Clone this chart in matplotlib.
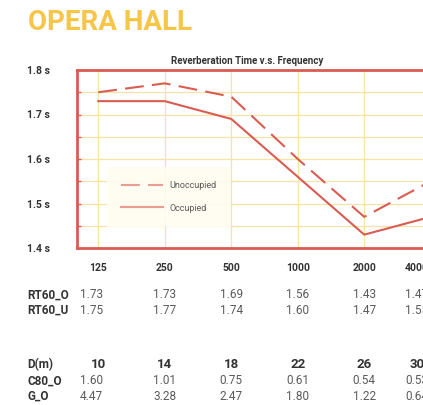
import matplotlib.pyplot as plt
from matplotlib.transforms import blended_transform_factory
from matplotlib.ticker import MultipleLocator

# data
freqs = ['125', '250', '500', '1000', '2000', '4000']
rt60_o = [1.73, 1.73, 1.69, 1.56, 1.43, 1.47]
rt60_u = [1.75, 1.77, 1.74, 1.60, 1.47, 1.55]
dist = ['10', '14', '18', '22', '26', '30']
c80_o = ['1.60', '1.01', '0.75', '0.61', '0.54', '0.53']
g_o = ['4.47', '3.28', '2.47', '1.80', '1.22', '0.64']
yticks = [1.4, 1.5, 1.6, 1.7, 1.8]

RED = '#d95c53'
GRID = '#f7e3a6'
YEL = '#f7c548'
DARK = '#333333'
GREY = '#5a5a5a'

plt.rcParams['font.family'] = ['Roboto', 'DejaVu Sans']

fig = plt.figure(figsize=(4.23, 4.05), dpi=100)
W, H = 423, 405
ax = fig.add_axes([77 / W, 1 - 248 / H, (452 - 77) / W, 178 / H])

x = list(range(len(freqs)))
ax.plot(x, rt60_u, color=RED, lw=1.5, dashes=(9, 4), label='Unoccupied')
ax.plot(x, rt60_o, color=RED, lw=1.5, label='Occupied')

ax.set_xlim(-0.32, len(freqs) - 1 + 0.32)
ax.set_ylim(1.4, 1.8)
ax.set_xticks(x)
ax.set_xticklabels([])
ax.set_yticks(yticks)
ax.set_yticklabels([f'{v:.1f} s' for v in yticks], fontweight='bold',
                   fontsize=7.5, color=DARK)
ax.yaxis.set_minor_locator(MultipleLocator(0.05))
ax.tick_params(axis='x', length=0)
ax.tick_params(axis='y', which='both', direction='in', length=3,
               color=RED, width=1, pad=19.5)
ax.grid(True, which='both', color=GRID, lw=0.9)
ax.set_axisbelow(True)
for s in ax.spines.values():
    s.set_color(RED)
    s.set_linewidth(2)

ax.set_title('Reverberation Time v.s. Frequency', fontsize=7,
             fontweight='bold', color=DARK, x=(247 - 77) / (452 - 77), pad=4)

leg = ax.legend(loc='lower left', bbox_to_anchor=((107 - 77) / 375, (248 - 227) / 178),
                frameon=True, fontsize=6.5, handlelength=4.6, labelspacing=1.5,
                borderpad=1.6, handletextpad=0.7, borderaxespad=0)
leg.get_frame().set_facecolor('#fffcf0')
leg.get_frame().set_edgecolor('none')
leg.get_frame().set_alpha(0.9)
leg.get_frame().set_boxstyle('square', pad=0)
for t in leg.get_texts():
    t.set_color(GREY)
for h in leg.get_lines():
    h.set_alpha(0.6)

fig.text(28 / W, 1 - 23 / H, 'OPERA HALL', fontsize=20, fontweight='bold',
         color=YEL, va='center', ha='left')

# table under the chart
tr = blended_transform_factory(ax.transData, fig.transFigure)


def row(y_px, label, vals, bold=False, size=8.5, first_shift=-0.1):
    fy = 1 - y_px / H
    if label:
        fig.text(27 / W, fy, label, fontsize=8.5, fontweight='bold',
                 color=DARK, va='center', ha='left')
    last = len(vals) - 1
    for i, v in enumerate(vals):
        xi = i + (first_shift if i == 0 else 0) + (-0.21 if i == last else 0)
        ax.text(xi, fy, v, transform=tr, fontsize=size, ha='center',
                va='center', color=DARK if bold else GREY,
                fontweight='bold' if bold else 'normal', clip_on=False)


row(268, None, freqs, bold=True, size=7.5, first_shift=0)
row(295, 'RT60_O', [f'{v:.2f}' for v in rt60_o])
row(310, 'RT60_U', [f'{v:.2f}' for v in rt60_u])
row(365, 'D(m)', dist, bold=True, size=9.5, first_shift=0)
row(381, 'C80_O', c80_o)
row(396, 'G_O', g_o)

fig.savefig('out.png', dpi=100)
